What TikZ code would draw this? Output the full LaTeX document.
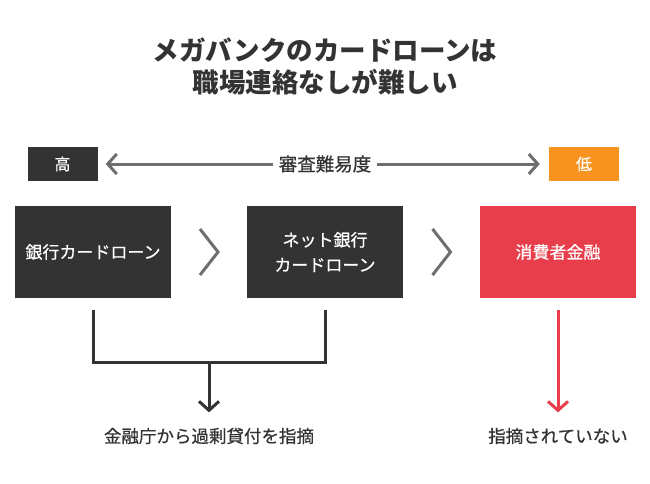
\documentclass[tikz,border=0pt]{standalone}
\usepackage{fontspec}
\setmainfont{Noto Sans CJK JP}
\newfontfamily\medfont{Noto Sans CJK JP}[FakeBold=0.6]
\usetikzlibrary{arrows.meta,calc}
\definecolor{darkbox}{HTML}{333333}
\definecolor{lowtag}{HTML}{F7931E}
\definecolor{redbox}{HTML}{E83E4C}
\definecolor{linegray}{HTML}{6E6E6E}
\begin{document}
\begin{tikzpicture}[x=1pt,y=-1pt,
  box/.style={fill=darkbox, text=white, minimum width=156pt, minimum height=92pt, inner sep=0pt, align=center, font=\medfont\fontsize{17}{25}\selectfont},
  tag/.style={text=white, minimum width=70pt, minimum height=34pt, inner sep=0pt, font=\medfont\fontsize{16}{20}\selectfont},
  note/.style={text=darkbox, font=\medfont\fontsize{17.5}{20}\selectfont},
  chev/.style={draw=linegray, line width=3pt},
  tip/.style={-{Straight Barb[length=9pt,width=20pt]}, line width=3pt}
  ]
\useasboundingbox (0,0) rectangle (650,484);

% Text Node
\node[text=darkbox, align=center, font=\bfseries\fontsize{26.5}{32}\selectfont] (title) at (325,66) {メガバンクのカードローンは\\職場連絡なしが難しい};

%Shape: Tags
\node[tag, fill=darkbox] (high) at (62.5,164) {高};
\node[tag, fill=lowtag] (low) at (584,164) {低};

%Straight Lines with Arrows
\draw[tip, {Straight Barb[length=9pt,width=20pt]}-{Straight Barb[length=9pt,width=20pt]}, draw=linegray] ([xshift=8pt]high.east) -- ([xshift=-9pt]low.west);
\node[fill=white, note, font=\medfont\fontsize{18.5}{20}\selectfont, inner xsep=6pt] (level) at (325,164) {審査難易度};

%Shape: Rectangles
\node[box] (bank) at (93,252) {銀行カードローン};
\node[box] (net) at (325,252) {ネット銀行\\カードローン};
\node[box, fill=redbox] (cons) at (558,252) {消費者金融};

%Shape: Chevrons
\draw[chev] ($(bank.east)!0.5!(net.west)+(-9,-23)$) -- +(18,23) -- +(0,46);
\draw[chev] ($(net.east)!0.5!(cons.west)+(-9,-23)$) -- +(18,23) -- +(0,46);

% Text Node
\node[note] (cited) at (209,436) {金融庁から過剰貸付を指摘};
\node[note] (notcited) at (558,436) {指摘されていない};

%Bracket
\draw[draw=darkbox, line width=3pt] ([yshift=-12pt]bank.south) -- ([yshift=-64pt]bank.south) -- ([yshift=-64pt]net.south) -- ([yshift=-12pt]net.south);
\coordinate (join) at ($(bank.south)!0.5!(net.south)+(0,64)$);
\draw[tip, draw=darkbox] (join) -- ([yshift=12pt]cited.north);
\draw[tip, draw=redbox] ([yshift=-12pt]cons.south) -- ([yshift=12pt]notcited.north);

\end{tikzpicture}
\end{document}
